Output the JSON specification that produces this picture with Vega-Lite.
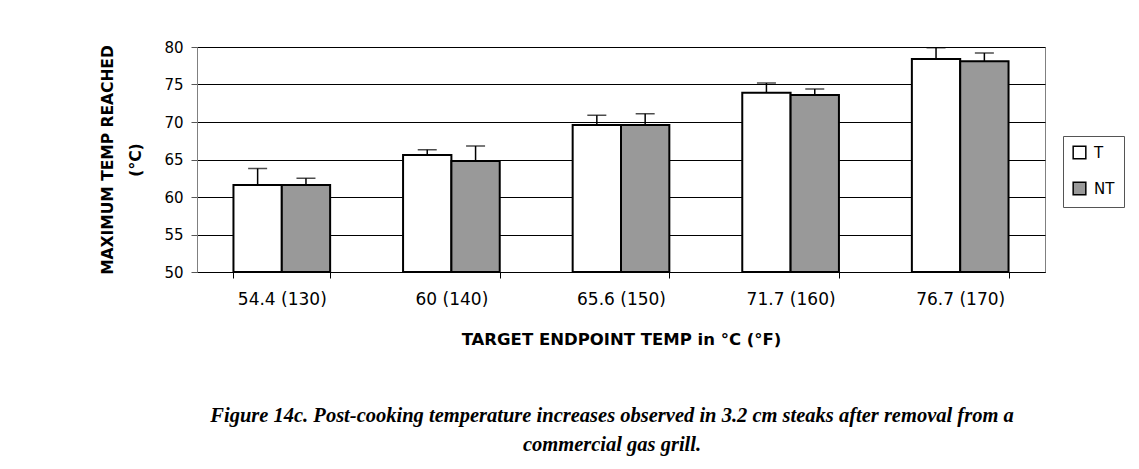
{
  "$schema": "https://vega.github.io/schema/vega-lite/v6.json",
  "width": 848,
  "height": 225,
  "autosize": "none",
  "padding": {"left": 197, "top": 47, "right": 94, "bottom": 197},
  "background": "white",
  "title": {
    "text": ["Figure 14c.  Post-cooking temperature increases observed in 3.2 cm steaks after removal from a", "commercial gas grill."],
    "orient": "bottom",
    "anchor": "middle",
    "dx": -9,
    "offset": 58,
    "font": "Liberation Serif",
    "fontSize": 20.5,
    "fontWeight": "bold",
    "fontStyle": "italic",
    "lineHeight": 29,
    "color": "black"
  },
  "data": {
    "values": [
      {"target": "54.4 (130)", "group": "T", "value": 61.6, "upper": 63.8},
      {"target": "54.4 (130)", "group": "NT", "value": 61.6, "upper": 62.5},
      {"target": "60 (140)", "group": "T", "value": 65.6, "upper": 66.3},
      {"target": "60 (140)", "group": "NT", "value": 64.8, "upper": 66.8},
      {"target": "65.6 (150)", "group": "T", "value": 69.6, "upper": 70.9},
      {"target": "65.6 (150)", "group": "NT", "value": 69.6, "upper": 71.1},
      {"target": "71.7 (160)", "group": "T", "value": 73.9, "upper": 75.2},
      {"target": "71.7 (160)", "group": "NT", "value": 73.6, "upper": 74.4},
      {"target": "76.7 (170)", "group": "T", "value": 78.4, "upper": 79.9},
      {"target": "76.7 (170)", "group": "NT", "value": 78.1, "upper": 79.2}
    ]
  },
  "encoding": {
    "x": {
      "field": "target",
      "type": "nominal",
      "sort": null,
      "scale": {"paddingInner": 0.43, "paddingOuter": 0.215},
      "axis": {
        "title": "TARGET ENDPOINT TEMP in °C (°F)",
        "labelAngle": 0,
        "tickBand": "extent",
        "tickSize": 6,
        "tickColor": "black",
        "domainColor": "black",
        "labelFont": "DejaVu Sans",
        "labelFontSize": 17,
        "labelColor": "black",
        "labelPadding": 13,
        "titleFont": "DejaVu Sans",
        "titleFontSize": 16.5,
        "titleFontWeight": "bold",
        "titleColor": "black",
        "titlePadding": 24
      }
    },
    "xOffset": {"field": "group", "type": "nominal", "sort": ["T", "NT"], "scale": {"paddingInner": 0, "paddingOuter": 0}}
  },
  "layer": [
    {
      "mark": {"type": "rule", "color": "black", "strokeWidth": 1.5},
      "encoding": {
        "y": {
          "field": "value",
          "type": "quantitative",
          "scale": {"domain": [50, 80], "nice": false, "zero": false},
          "axis": {
            "title": ["MAXIMUM TEMP REACHED", "(°C)"],
            "values": [50, 55, 60, 65, 70, 75, 80],
            "grid": true,
            "gridColor": "black",
            "gridWidth": 1,
            "tickSize": 6,
            "tickColor": "#555",
            "domainColor": "#808080",
            "labelFont": "DejaVu Sans",
            "labelFontSize": 15,
            "labelColor": "black",
            "labelPadding": 8,
            "titleFont": "DejaVu Sans",
            "titleFontSize": 15.5,
            "titleFontWeight": "bold",
            "titleColor": "black",
            "titleLineHeight": 28,
            "titlePadding": 20
          }
        },
        "y2": {"field": "upper"}
      }
    },
    {
      "mark": {"type": "tick", "color": "black", "size": 19, "thickness": 1.5, "orient": "horizontal"},
      "encoding": {
        "y": {
          "field": "upper",
          "type": "quantitative",
          "scale": {"domain": [50, 80], "nice": false, "zero": false},
          "axis": {
            "title": ["MAXIMUM TEMP REACHED", "(°C)"],
            "values": [50, 55, 60, 65, 70, 75, 80],
            "grid": true,
            "gridColor": "black",
            "gridWidth": 1,
            "tickSize": 6,
            "tickColor": "#555",
            "domainColor": "#808080",
            "labelFont": "DejaVu Sans",
            "labelFontSize": 15,
            "labelColor": "black",
            "labelPadding": 8,
            "titleFont": "DejaVu Sans",
            "titleFontSize": 15.5,
            "titleFontWeight": "bold",
            "titleColor": "black",
            "titleLineHeight": 28,
            "titlePadding": 20
          }
        }
      }
    },
    {
      "mark": {"type": "bar", "stroke": "black", "strokeWidth": 2},
      "encoding": {
        "y": {
          "field": "value",
          "type": "quantitative",
          "scale": {"domain": [50, 80], "nice": false, "zero": false},
          "axis": {
            "title": ["MAXIMUM TEMP REACHED", "(°C)"],
            "values": [50, 55, 60, 65, 70, 75, 80],
            "grid": true,
            "gridColor": "black",
            "gridWidth": 1,
            "tickSize": 6,
            "tickColor": "#555",
            "domainColor": "#808080",
            "labelFont": "DejaVu Sans",
            "labelFontSize": 15,
            "labelColor": "black",
            "labelPadding": 8,
            "titleFont": "DejaVu Sans",
            "titleFontSize": 15.5,
            "titleFontWeight": "bold",
            "titleColor": "black",
            "titleLineHeight": 28,
            "titlePadding": 20
          }
        },
        "y2": {"datum": 50},
        "fill": {
          "field": "group",
          "type": "nominal",
          "sort": ["T", "NT"],
          "scale": {"domain": ["T", "NT"], "range": ["#ffffff", "#999999"]},
          "legend": {
            "title": null,
            "orient": "none",
            "legendX": 866,
            "legendY": 89,
            "padding": 9,
            "rowPadding": 17,
            "strokeColor": "#555",
            "fillColor": "white",
            "symbolType": "square",
            "symbolSize": 160,
            "symbolStrokeColor": "black",
            "symbolStrokeWidth": 1.5,
            "labelFont": "DejaVu Sans",
            "labelFontSize": 15,
            "labelColor": "black",
            "labelOffset": 7
          }
        }
      }
    }
  ],
  "config": {
    "view": {"stroke": "#808080", "strokeWidth": 1},
    "axis": {"gridOpacity": 1}
  }
}
